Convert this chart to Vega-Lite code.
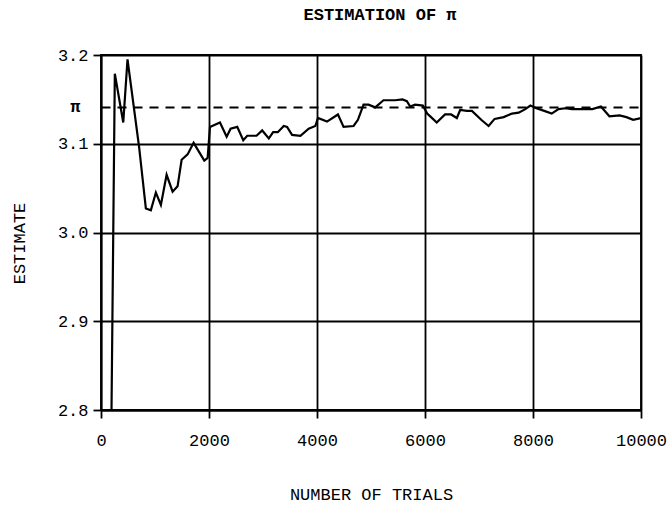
{
  "$schema": "https://vega.github.io/schema/vega-lite/v6.json",
  "width": 540,
  "height": 355,
  "autosize": "none",
  "padding": {"left": 101, "top": 55, "right": 27, "bottom": 95},
  "background": "white",
  "config": {
    "view": {"stroke": "black", "strokeWidth": 1.8},
    "font": "Liberation Mono"
  },
  "title": {
    "text": "ESTIMATION OF π",
    "font": "Liberation Mono",
    "fontSize": 17,
    "fontWeight": "bold",
    "color": "black",
    "offset": 22,
    "dx": 9
  },
  "data": {
    "values": [
      {"trials": 180, "estimate": 2.71},
      {"trials": 256, "estimate": 3.179},
      {"trials": 412, "estimate": 3.124},
      {"trials": 491, "estimate": 3.195},
      {"trials": 708, "estimate": 3.095},
      {"trials": 831, "estimate": 3.027},
      {"trials": 923, "estimate": 3.025},
      {"trials": 1016, "estimate": 3.045},
      {"trials": 1109, "estimate": 3.031},
      {"trials": 1215, "estimate": 3.065},
      {"trials": 1326, "estimate": 3.046},
      {"trials": 1418, "estimate": 3.052},
      {"trials": 1493, "estimate": 3.082},
      {"trials": 1604, "estimate": 3.088},
      {"trials": 1715, "estimate": 3.101},
      {"trials": 1913, "estimate": 3.081},
      {"trials": 1975, "estimate": 3.084},
      {"trials": 2018, "estimate": 3.119},
      {"trials": 2203, "estimate": 3.124},
      {"trials": 2327, "estimate": 3.108},
      {"trials": 2400, "estimate": 3.117},
      {"trials": 2523, "estimate": 3.119},
      {"trials": 2634, "estimate": 3.104},
      {"trials": 2708, "estimate": 3.109},
      {"trials": 2880, "estimate": 3.109},
      {"trials": 2985, "estimate": 3.115},
      {"trials": 3108, "estimate": 3.106},
      {"trials": 3188, "estimate": 3.113},
      {"trials": 3274, "estimate": 3.113},
      {"trials": 3385, "estimate": 3.120},
      {"trials": 3446, "estimate": 3.119},
      {"trials": 3538, "estimate": 3.110},
      {"trials": 3693, "estimate": 3.109},
      {"trials": 3846, "estimate": 3.117},
      {"trials": 3969, "estimate": 3.120},
      {"trials": 4018, "estimate": 3.129},
      {"trials": 4185, "estimate": 3.125},
      {"trials": 4388, "estimate": 3.133},
      {"trials": 4492, "estimate": 3.119},
      {"trials": 4677, "estimate": 3.120},
      {"trials": 4758, "estimate": 3.127},
      {"trials": 4862, "estimate": 3.144},
      {"trials": 4954, "estimate": 3.144},
      {"trials": 5078, "estimate": 3.141},
      {"trials": 5231, "estimate": 3.149},
      {"trials": 5447, "estimate": 3.149},
      {"trials": 5583, "estimate": 3.150},
      {"trials": 5664, "estimate": 3.148},
      {"trials": 5725, "estimate": 3.142},
      {"trials": 5817, "estimate": 3.144},
      {"trials": 5960, "estimate": 3.143},
      {"trials": 6040, "estimate": 3.134},
      {"trials": 6112, "estimate": 3.130},
      {"trials": 6217, "estimate": 3.124},
      {"trials": 6371, "estimate": 3.133},
      {"trials": 6483, "estimate": 3.133},
      {"trials": 6590, "estimate": 3.129},
      {"trials": 6651, "estimate": 3.138},
      {"trials": 6776, "estimate": 3.137},
      {"trials": 6869, "estimate": 3.137},
      {"trials": 7041, "estimate": 3.127},
      {"trials": 7178, "estimate": 3.120},
      {"trials": 7289, "estimate": 3.128},
      {"trials": 7457, "estimate": 3.130},
      {"trials": 7611, "estimate": 3.134},
      {"trials": 7735, "estimate": 3.135},
      {"trials": 7858, "estimate": 3.139},
      {"trials": 7951, "estimate": 3.143},
      {"trials": 8063, "estimate": 3.140},
      {"trials": 8208, "estimate": 3.137},
      {"trials": 8346, "estimate": 3.134},
      {"trials": 8472, "estimate": 3.139},
      {"trials": 8598, "estimate": 3.140},
      {"trials": 8723, "estimate": 3.139},
      {"trials": 8912, "estimate": 3.139},
      {"trials": 9100, "estimate": 3.139},
      {"trials": 9258, "estimate": 3.142},
      {"trials": 9415, "estimate": 3.131},
      {"trials": 9604, "estimate": 3.132},
      {"trials": 9730, "estimate": 3.130},
      {"trials": 9855, "estimate": 3.127},
      {"trials": 10000, "estimate": 3.129}
    ]
  },
  "mark": {"type": "line", "color": "black", "strokeWidth": 2.2, "clip": true},
  "encoding": {
    "x": {
      "field": "trials",
      "type": "quantitative",
      "scale": {"domain": [0, 10000], "nice": false},
      "axis": {
        "title": "NUMBER OF TRIALS",
        "values": [0, 2000, 4000, 6000, 8000, 10000],
        "format": "d",
        "grid": true,
        "gridColor": "black",
        "gridWidth": 1.8,
        "gridOpacity": 1,
        "domainColor": "black",
        "domainWidth": 1.8,
        "tickColor": "black",
        "tickWidth": 1.8,
        "tickSize": 8,
        "labelFont": "Liberation Mono",
        "labelFontSize": 17,
        "labelColor": "black",
        "labelPadding": 14,
        "labelFlush": false,
        "labelOverlap": false,
        "titleFont": "Liberation Mono",
        "titleFontSize": 17,
        "titleFontWeight": "normal",
        "titleColor": "black",
        "titlePadding": 38
      }
    },
    "y": {
      "field": "estimate",
      "type": "quantitative",
      "scale": {"domain": [2.8, 3.2], "nice": false, "zero": false},
      "axis": {
        "title": "ESTIMATE",
        "values": [2.8, 2.9, 3.0, 3.1, 3.14159, 3.2],
        "labelExpr": "datum.value > 3.14 && datum.value < 3.15 ? 'π' : format(datum.value, '.1f')",
        "grid": true,
        "gridColor": "black",
        "gridWidth": 1.8,
        "gridDash": {"condition": {"test": "datum.value > 3.14 && datum.value < 3.15", "value": [9, 7]}, "value": []},
        "gridOpacity": 1,
        "domainColor": "black",
        "domainWidth": 1.8,
        "tickColor": "black",
        "tickWidth": 1.8,
        "tickSize": 8,
        "tickOpacity": {"condition": {"test": "datum.value > 3.14 && datum.value < 3.15", "value": 0}, "value": 1},
        "labelFont": "Liberation Mono",
        "labelFontSize": 17,
        "labelFontWeight": {"condition": {"test": "datum.value > 3.14 && datum.value < 3.15", "value": "bold"}, "value": "normal"},
        "labelPadding": {"condition": {"test": "datum.value > 3.14 && datum.value < 3.15", "value": 13}, "value": 5},
        "labelColor": "black",
        "labelFlush": false,
        "labelOverlap": false,
        "titleFont": "Liberation Mono",
        "titleFontSize": 17,
        "titleFontWeight": "normal",
        "titleColor": "black",
        "titlePadding": 29,
        "titleY": 188
      }
    }
  }
}
